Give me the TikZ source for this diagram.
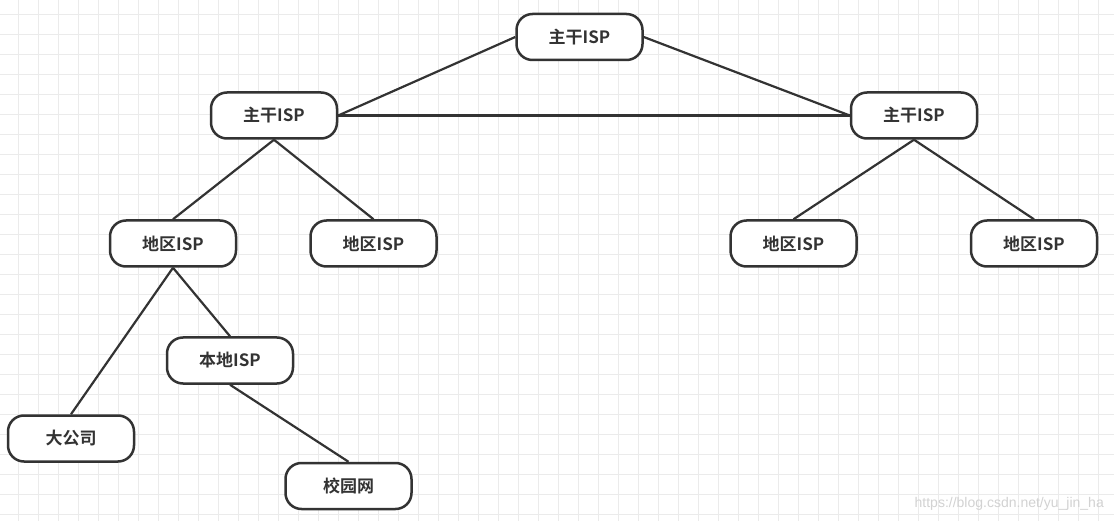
\documentclass[tikz,border=0pt]{standalone}
\usepackage{fontspec}
\setmainfont{Liberation Sans}
\newfontfamily\cjk{Noto Sans CJK SC}[BoldFont=* Bold]
\definecolor{gridc}{HTML}{EBEBEB}
\definecolor{edgec}{HTML}{333333}
\begin{document}
\begin{tikzpicture}[x=1pt,y=-1pt,
  box/.style={draw=edgec,line width=2.5pt,fill=white,rounded corners=16pt,
    minimum width=126pt,minimum height=46pt,inner sep=0pt,
    font=\cjk\bfseries\fontsize{17}{19}\selectfont,text=edgec},
  link/.style={draw=edgec,line width=2.2pt}]
\useasboundingbox (0,0) rectangle (1114,521);
\fill[white] (0,0) rectangle (1114,521);
\foreach \i in {0,...,55} {\draw[gridc,line width=1pt] (18.5+20*\i,0) -- (18.5+20*\i,521);}
\foreach \j in {0,...,25} {\draw[gridc,line width=1pt] (0,14.5+20*\j) -- (1114,14.5+20*\j);}
\node[box] (top) at (579.5,37) {主干ISP};
\node[box] (bl) at (274,115.5) {主干ISP};
\node[box] (br) at (914,115.5) {主干ISP};
\node[box] (r1) at (173,243.5) {地区ISP};
\node[box] (r2) at (373.5,243.5) {地区ISP};
\node[box] (r3) at (793.5,243.5) {地区ISP};
\node[box] (r4) at (1034,243.5) {地区ISP};
\node[box] (loc) at (230,360.5) {本地ISP};
\node[box] (big) at (71,438.5) {大公司};
\node[box] (cam) at (348.5,486) {校园网};
\draw[link] (top.west) -- (bl.east);
\draw[link] (top.east) -- (br.west);
\draw[link] (bl.east) -- (br.west);
\draw[link] (bl.south) -- (r1.north);
\draw[link] (bl.south) -- (r2.north);
\draw[link] (br.south) -- (r3.north);
\draw[link] (br.south) -- (r4.north);
\draw[link] (r1.south) -- (big.north);
\draw[link] (r1.south) -- (loc.north);
\draw[link] (loc.south) -- (cam.north);
\node[text=gray!35,font=\fontsize{14}{16}\selectfont,anchor=base east,inner sep=0pt] (wm) at (1104,507) {https://blog.csdn.net/yu\_jin\_ha};
\end{tikzpicture}
\end{document}
